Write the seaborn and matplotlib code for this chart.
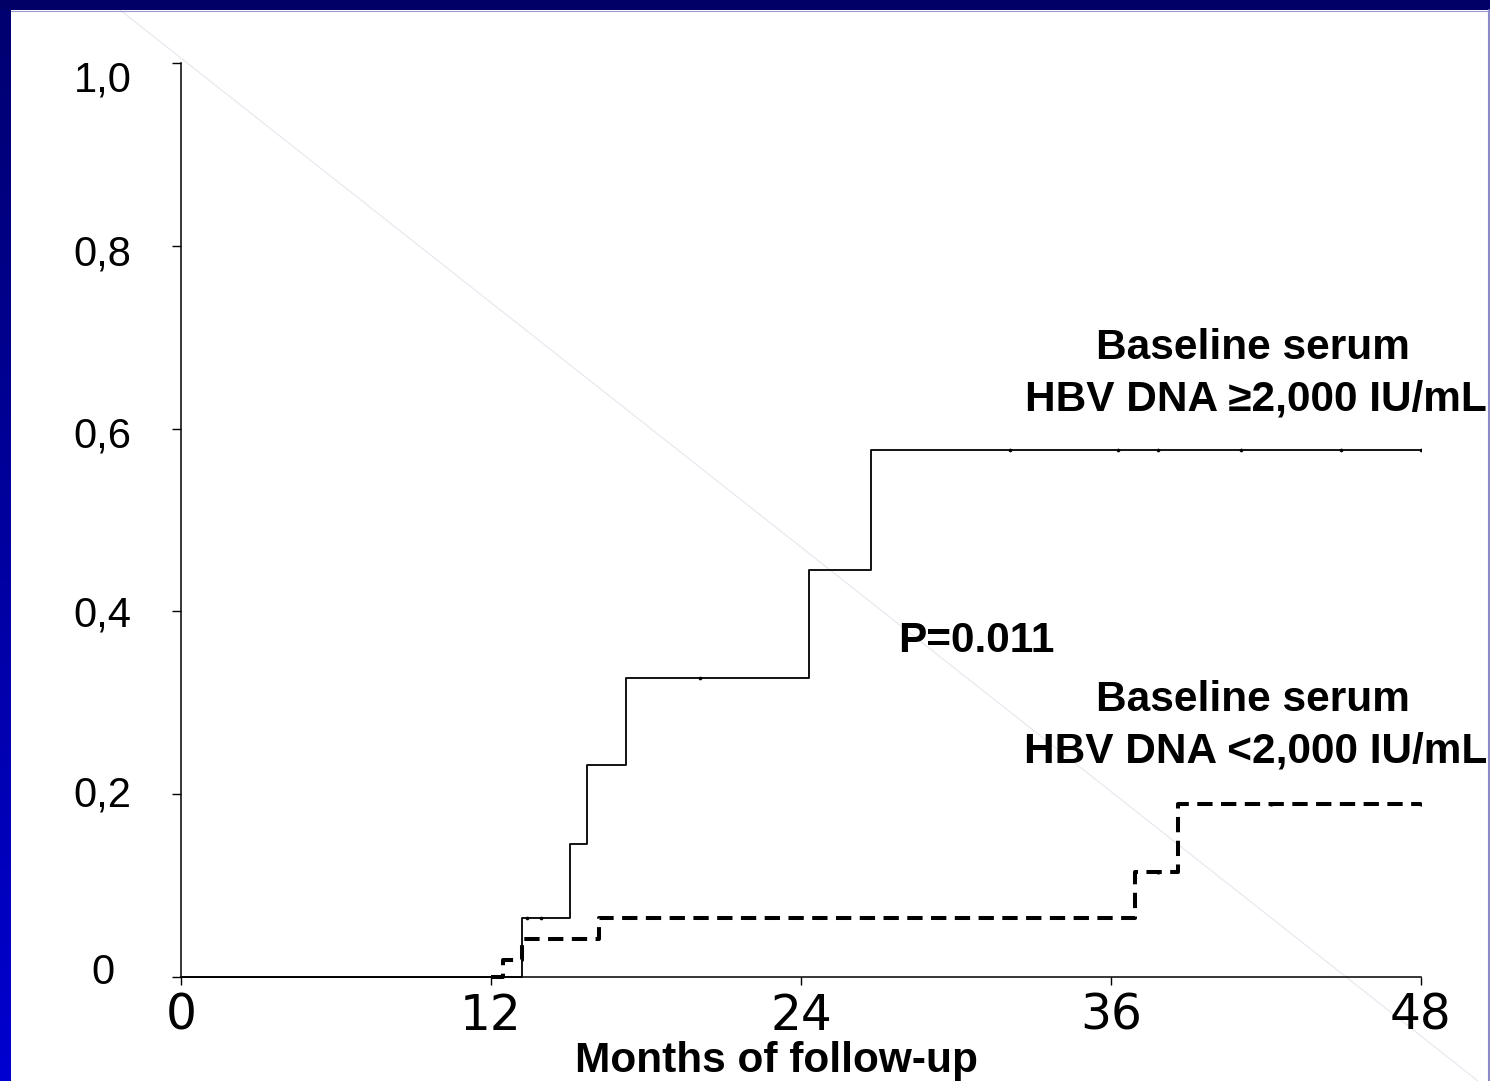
import numpy as np
import pandas as pd
import matplotlib
matplotlib.use("Agg")
import matplotlib.pyplot as plt
from matplotlib.lines import Line2D
import matplotlib.transforms as mtransforms
import seaborn as sns

# ---- data ----
high_times = [0.0, 13.2, 15.05, 15.73, 17.21, 24.31, 26.71, 48.0]
high_probs = [0.0, 0.065, 0.145, 0.232, 0.327, 0.445, 0.577, 0.577]
high_cens_t = [13.4, 13.95, 20.1, 32.1, 36.27, 37.82, 41.03, 44.9, 48.0]

low_times = [12.0, 12.48, 13.19, 16.19, 36.93, 38.6, 48.0]
low_probs = [0.0, 0.0186, 0.0416, 0.0645, 0.115, 0.189, 0.189]
low_cens_t = [37.8, 42.2, 48.0]

x_ticks = [0, 12, 24, 36, 48]
y_ticks = [0.0, 0.2, 0.4, 0.6, 0.8, 1.0]
y_tick_labels = ["0", "0,2", "0,4", "0,6", "0,8", "1,0"]

label_high = ["Baseline serum", "HBV DNA \u22652,000 IU/mL"]
label_low = ["Baseline serum", "HBV DNA <2,000 IU/mL"]
p_text = "P=0.011"
x_label = "Months of follow-up"


def cens_probs(times, probs, ct):
    out = []
    for c in ct:
        idx = max(i for i, t in enumerate(times) if t <= c)
        out.append(probs[idx])
    return out


df_high = pd.DataFrame({"time": high_times, "prob": high_probs})
df_low = pd.DataFrame({"time": low_times, "prob": low_probs})
cens_high = pd.DataFrame({"time": high_cens_t, "prob": cens_probs(high_times, high_probs, high_cens_t)})
cens_low = pd.DataFrame({"time": low_cens_t, "prob": cens_probs(low_times, low_probs, low_cens_t)})

sns.set_theme(style="ticks")
plt.rcParams["font.family"] = ["Liberation Sans", "DejaVu Sans"]
plt.rcParams.update({"text.color": "black", "axes.labelcolor": "black",
                     "xtick.color": "black", "ytick.color": "black",
                     "axes.edgecolor": "black"})

W, H = 1490, 1081
fig = plt.figure(figsize=(W / 100, H / 100), dpi=100, facecolor="white")

# faint diagonal line of the slide background (behind everything)
fig.add_artist(Line2D([120 / W, 1478 / W], [1 - 10 / H, 0], transform=fig.transFigure,
                      color="#e6e6ee", lw=0.8, zorder=-5))

# --- slide frame: navy top band, blue gradient left band, thin right line
top = fig.add_axes([0, 1 - 10 / H, 1, 10 / H])
top.set_facecolor("#000066")
top.set_xticks([]); top.set_yticks([])
for s in top.spines.values():
    s.set_visible(False)

left = fig.add_axes([0, 0, 11 / W, 1 - 10 / H])
grad = np.linspace(0, 1, 256).reshape(-1, 1)
cols = np.zeros((256, 1, 3))
c_top = np.array([0x00, 0x00, 0x70]) / 255
c_bot = np.array([0x00, 0x00, 0xD0]) / 255
cols[:, 0, :] = c_top[None, :] * (1 - grad) + c_bot[None, :] * grad
left.imshow(cols, aspect="auto", extent=[0, 1, 0, 1], origin="upper")
left.set_xticks([]); left.set_yticks([])
for s in left.spines.values():
    s.set_visible(False)

fig.add_artist(Line2D([1488.5 / W, 1488.5 / W], [0, 1 - 10 / H], transform=fig.transFigure,
                      color="#8a8ac8", lw=1.5))
fig.add_artist(Line2D([11 / W, 1488 / W], [1 - 10.5 / H, 1 - 10.5 / H], transform=fig.transFigure,
                      color="#9a9ad0", lw=0.8))

# --- main axes
ax = fig.add_axes([181 / W, 104 / H, 1240 / W, 914 / H])
ax.set_facecolor("none")

sns.lineplot(data=df_high, x="time", y="prob", ax=ax, color="black", linewidth=1.3,
             drawstyle="steps-post", estimator=None, sort=False, legend=False)
sns.lineplot(data=df_low, x="time", y="prob", ax=ax, color="black", linewidth=2.9,
             drawstyle="steps-post", estimator=None, sort=False, legend=False,
             linestyle=(0, (3.8, 2.1)))
sns.scatterplot(data=cens_high, x="time", y="prob", ax=ax, color="black", s=7,
                marker="o", linewidth=0, legend=False)
sns.scatterplot(data=cens_low, x="time", y="prob", ax=ax, color="black", s=9,
                marker="o", linewidth=0, legend=False)
for ln in ax.lines:
    ln.set_clip_on(False)

ax.set_xlim(0, 48)
ax.set_ylim(0, 1.0)
ax.set_xticks(x_ticks)
ax.set_xticklabels([str(t) for t in x_ticks], family=["DejaVu Sans"], fontsize=35)
ax.set_yticks(y_ticks)
ax.set_yticklabels(y_tick_labels, fontsize=30, ha="center")
ax.tick_params(axis="x", direction="out", length=5.8, width=1.0, color="black", pad=5)
ax.tick_params(axis="y", direction="out", length=6.5, width=1.0, color="black", pad=50)

# small vertical nudges of y tick labels (pixels, + = up)
nudges = {"0": 9, "0,2": 3, "0,4": 0, "0,6": -3, "0,8": -4, "1,0": -13}
for lab in ax.get_yticklabels():
    dy = nudges.get(lab.get_text(), 0)
    lab.set_transform(lab.get_transform() +
                      mtransforms.ScaledTranslation(0, dy / 100, fig.dpi_scale_trans))

for side in ["top", "right"]:
    ax.spines[side].set_visible(False)
for side in ["left", "bottom"]:
    ax.spines[side].set_color("black")
    ax.spines[side].set_linewidth(1.1)

ax.set_ylabel("")
ax.set_xlabel(x_label, fontsize=30.5, fontweight="bold", color="black")
ax.xaxis.set_label_coords(0.4806, -0.1040)
ax.xaxis.label.set_va("baseline")

# annotations
tx = 41.5
kw = dict(ha="center", va="center", fontsize=30.5, fontweight="bold", color="black", clip_on=False)
ax.text(tx, 0.688, label_high[0], **kw)
ax.text(tx + 0.1, 0.632, label_high[1], **kw)
ax.text(tx, 0.303, label_low[0], **kw)
ax.text(tx + 0.1, 0.247, label_low[1], **kw)
ax.text(30.77, 0.368, p_text, **kw)

fig.savefig("out.png", dpi=100, facecolor="white")
